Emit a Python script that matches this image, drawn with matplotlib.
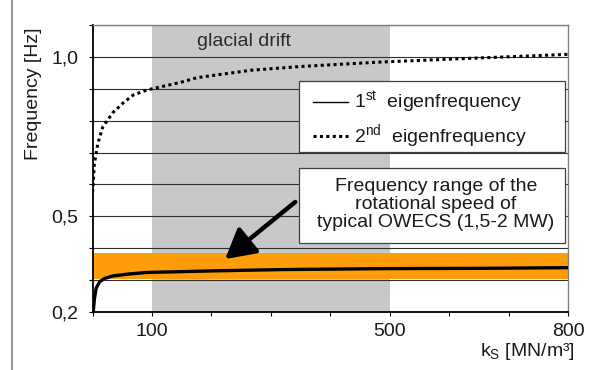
import matplotlib
matplotlib.use('Agg')
import matplotlib.pyplot as plt
from matplotlib.patches import Rectangle
from matplotlib.lines import Line2D

plt.rcParams['font.family'] = ['Liberation Sans', 'DejaVu Sans']
plt.rcParams['mathtext.fontset'] = 'custom'
plt.rcParams['mathtext.rm'] = 'Liberation Sans'
plt.rcParams['mathtext.it'] = 'Liberation Sans:italic'
plt.rcParams['mathtext.default'] = 'regular'

# ---- data ----
ks_1 = [1, 3, 6, 12, 20, 34, 60, 91, 203, 317, 486, 656, 800]
f_1 = [0.2, 0.24, 0.275, 0.295, 0.305, 0.313, 0.319, 0.324, 0.329, 0.333, 0.336, 0.337, 0.339]
ks_2 = [0, 1.5, 3, 9, 17, 34, 51, 68, 91, 114, 148, 176, 266, 351, 486, 656, 800]
f_2 = [0.575, 0.62, 0.665, 0.73, 0.78, 0.825, 0.855, 0.88, 0.896, 0.906, 0.92, 0.935,
       0.958, 0.97, 0.984, 0.997, 1.008]
glacial_range = [100, 500]
owecs_band = [0.303, 0.385]
yticks = [0.2, 0.3, 0.4, 0.5, 0.6, 0.7, 0.8, 0.9, 1.0, 1.1]
ytick_labels = ['0,2', '', '', '0,5', '', '', '', '', '1,0', '']
xticks = [0, 100, 200, 300, 400, 500, 600, 700, 800]
xtick_labels = ['', '100', '', '', '', '500', '', '', '800']
legend_labels = [r'1$^{st}$  eigenfrequency', r'2$^{nd}$  eigenfrequency']
band_text = 'Frequency range of the\nrotational speed of\ntypical OWECS (1,5-2 MW)'
arrow_tail = (341, 0.545)
arrow_head = (223, 0.366)

TXT = '#1a1a1a'
FS = 14

fig = plt.figure(figsize=(6, 3.7), dpi=100)
W, H = 600, 370
ax = fig.add_axes([92.6 / W, (H - 312) / H, 475.4 / W, 287 / H])

# outer frame (partially cropped)
fig.add_artist(Rectangle((12 / W, -0.2), 1.2, 1.2 + (1 - 10 / H), transform=fig.transFigure,
                         fill=False, edgecolor='#808080', lw=1.2, clip_on=False))

ax.axvspan(glacial_range[0], glacial_range[1], color='#c8c8c8', zorder=0.2, lw=0)
ax.axhspan(owecs_band[0], owecs_band[1], color='#ff9c0a', zorder=0.8, lw=0)

ax.set_xlim(0, 800)
ax.set_ylim(0.2, 1.1)
ax.set_yticks(yticks)
ax.set_yticklabels(ytick_labels)
ax.set_xticks(xticks)
ax.set_xticklabels(xtick_labels)
ax.set_axisbelow(True)
ax.yaxis.grid(True, color='#303030', lw=0.8)
ax.tick_params(axis='y', direction='out', length=3, pad=7, labelsize=FS, labelcolor=TXT)
ax.tick_params(axis='x', direction='out', length=3, pad=5, labelsize=FS, labelcolor=TXT)

for s in ['left', 'bottom']:
    ax.spines[s].set_color('black')
    ax.spines[s].set_linewidth(1.3)
for s in ['top', 'right']:
    ax.spines[s].set_color('#808080')
    ax.spines[s].set_linewidth(1.0)

ax.plot(ks_1, f_1, color='black', lw=2.4, zorder=3, solid_capstyle='round')
ax.plot(ks_2, f_2, color='black', lw=2.2, linestyle=(0, (1, 1.1)), zorder=3,
        dash_capstyle='butt')

ax.text(254, 1.047, 'glacial drift', ha='center', va='center', fontsize=FS, color='#2a2a2a')

# legend box
lx0, lx1 = (299 - 92.6) / 475.4, (565 - 92.6) / 475.4
ly0, ly1 = (312 - 152) / 287, (312 - 81) / 287
ax.add_patch(Rectangle((lx0, ly0), lx1 - lx0, ly1 - ly0, transform=ax.transAxes,
                       facecolor='white', edgecolor='#404040', lw=0.9, zorder=5))
hx0, hx1 = (313 - 92.6) / 475.4, (348 - 92.6) / 475.4
tx = (354 - 92.6) / 475.4
ry = [(312 - 102) / 287, (312 - 136) / 287]
ax.add_line(Line2D([hx0, hx1], [ry[0], ry[0]], transform=ax.transAxes, color='black',
                   lw=1.0, zorder=6))
ax.add_line(Line2D([hx0, hx1], [ry[1], ry[1]], transform=ax.transAxes, color='black',
                   lw=2.2, linestyle=(0, (1, 1.1)), zorder=6))
for y, lab in zip(ry, legend_labels):
    ax.text(tx, y, lab, transform=ax.transAxes, ha='left', va='center', fontsize=FS,
            color=TXT, zorder=7)

# text box
bx0, bx1 = (299 - 92.6) / 475.4, (565 - 92.6) / 475.4
by0, by1 = (312 - 243) / 287, (312 - 168) / 287
ax.add_patch(Rectangle((bx0, by0), bx1 - bx0, by1 - by0, transform=ax.transAxes,
                       facecolor='white', edgecolor='#404040', lw=0.9, zorder=5))
ax.text((436 - 92.6) / 475.4, (312 - 204.5) / 287, band_text, transform=ax.transAxes,
        ha='center', va='center', fontsize=FS, color=TXT, linespacing=1.08, zorder=7)

ax.annotate('', xy=arrow_head, xytext=arrow_tail,
            arrowprops=dict(arrowstyle='-|>,head_length=0.9,head_width=0.5',
                            mutation_scale=20, lw=3.2, color='black',
                            shrinkA=0, shrinkB=0), zorder=8)

fig.text(34 / W, 1 - 94 / H, 'Frequency [Hz]', rotation=90, ha='center', va='center',
         fontsize=FS, color=TXT)
fig.text(575 / W, 1 - 352 / H, r'k$_S$ [MN/m³]', ha='right', va='center', fontsize=FS,
         color=TXT)

fig.savefig('out.png', dpi=100)
